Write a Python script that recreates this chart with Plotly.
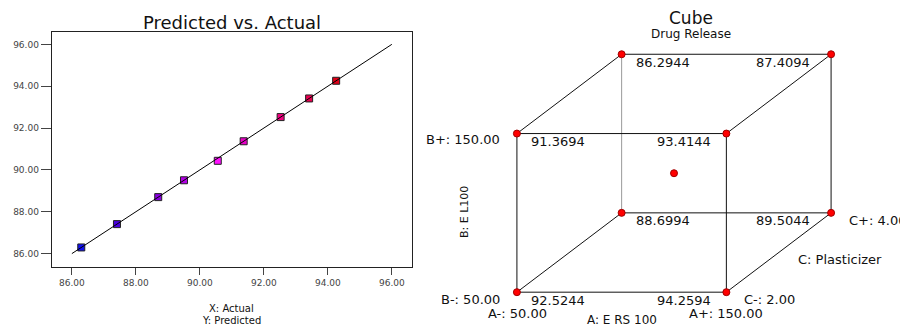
import plotly.graph_objects as go

# ---------------- data ----------------
# Predicted vs. Actual
actual = [86.2944, 87.4094, 88.6994, 89.5044, 90.56, 91.3694, 92.5244, 93.4144, 94.2594]
predicted = [86.2944, 87.4094, 88.6994, 89.5044, 90.4344, 91.3694, 92.5244, 93.4144, 94.2594]
point_colors = ["#1010f0", "#4a00e0", "#8a00e0", "#b400e8", "#ff10ff",
                "#e800c8", "#f00080", "#e80050", "#e00018"]
ref_line = [86.0, 96.0]
tick_vals = [86, 88, 90, 92, 94, 96]
tick_text = ["86.00", "88.00", "90.00", "92.00", "94.00", "96.00"]

# Cube: factor levels (coded) and responses
cube_A = [-1, 1, -1, 1, -1, 1, -1, 1]
cube_B = [-1, -1, 1, 1, -1, -1, 1, 1]
cube_C = [-1, -1, -1, -1, 1, 1, 1, 1]
cube_resp = ["92.5244", "94.2594", "91.3694", "93.4144",
             "88.6994", "89.5044", "86.2944", "87.4094"]
center_pt = [0, 0, 0]
edges = [(0, 1), (2, 3), (0, 2), (1, 3),      # front face
         (4, 5), (6, 7), (5, 7),              # back face (visible)
         (0, 4), (1, 5), (2, 6), (3, 7)]      # depth edges
hidden_edges = [(4, 6)]

FONT = "DejaVu Sans"


def proj(a, b, c):
    return a + 0.5 * c, b + 0.5 * c


fig = go.Figure()

# ---------------- left: predicted vs actual ----------------
fig.add_trace(go.Scatter(
    x=actual, y=predicted, mode="markers",
    marker=dict(symbol="square", size=7, color=point_colors,
                line=dict(color="#222222", width=1)),
    xaxis="x", yaxis="y", hoverinfo="x+y", showlegend=False))
fig.add_trace(go.Scatter(
    x=ref_line, y=ref_line, mode="lines",
    line=dict(color="black", width=1), xaxis="x", yaxis="y",
    hoverinfo="skip", showlegend=False))

# ---------------- right: cube ----------------
for (i, j) in hidden_edges:
    x0, y0 = proj(cube_A[i], cube_B[i], cube_C[i])
    x1, y1 = proj(cube_A[j], cube_B[j], cube_C[j])
    fig.add_trace(go.Scatter(x=[x0, x1], y=[y0, y1], mode="lines",
                             line=dict(color="#9a9a9a", width=1),
                             xaxis="x2", yaxis="y2", hoverinfo="skip", showlegend=False))
for (i, j) in edges:
    x0, y0 = proj(cube_A[i], cube_B[i], cube_C[i])
    x1, y1 = proj(cube_A[j], cube_B[j], cube_C[j])
    fig.add_trace(go.Scatter(x=[x0, x1], y=[y0, y1], mode="lines",
                             line=dict(color="#111111", width=1),
                             xaxis="x2", yaxis="y2", hoverinfo="skip", showlegend=False))

vx = [proj(a, b, c)[0] for a, b, c in zip(cube_A, cube_B, cube_C)]
vy = [proj(a, b, c)[1] for a, b, c in zip(cube_A, cube_B, cube_C)]
cx, cy = proj(*center_pt)
fig.add_trace(go.Scatter(
    x=vx + [cx], y=vy + [cy], mode="markers",
    marker=dict(symbol="circle", size=7, color="#ff0000",
                line=dict(color="#a00000", width=1)),
    xaxis="x2", yaxis="y2", text=cube_resp + ["center"], hoverinfo="text",
    showlegend=False))

annotations = []
# response labels at each vertex
for k in range(8):
    left = cube_A[k] < 0
    back = cube_C[k] > 0
    annotations.append(dict(
        x=vx[k], y=vy[k], xref="x2", yref="y2", text=cube_resp[k],
        showarrow=False, font=dict(family=FONT, size=13, color="#111111"),
        xanchor="left" if left else "right",
        xshift=12 if left else (-19 if back else -13),
        yshift=-8, yanchor="middle"))


def paper(px, py):
    return px / 900.0, 1 - py / 327.0


def add_text(text, px, py, size, xanchor="center", angle=0, color="#111111"):
    x, y = paper(px, py)
    annotations.append(dict(x=x, y=y, xref="paper", yref="paper", text=text,
                            showarrow=False, xanchor=xanchor, yanchor="middle",
                            textangle=angle,
                            font=dict(family=FONT, size=size, color=color)))


add_text("Predicted vs. Actual", 231.5, 23, 18)
add_text("X: Actual", 231.5, 308, 10)
add_text("Y: Predicted", 231.5, 320, 10)
add_text("Cube", 691, 18, 17)
add_text("Drug Release", 691, 34, 12)
add_text("B+: 150.00", 502, 140, 13, xanchor="right")
add_text("B-: 50.00", 502, 299, 13, xanchor="right")
add_text("A-: 50.00", 517, 313, 13)
add_text("A+: 150.00", 726, 313, 13)
add_text("A: E RS 100", 622, 320, 12)
add_text("C-: 2.00", 742, 299, 13, xanchor="left")
add_text("C+: 4.00", 847, 220, 13, xanchor="left")
add_text("C: Plasticizer", 796, 259, 13, xanchor="left")
add_text("B: E L100", 464, 212, 11, angle=-90)

fig.update_layout(
    width=900, height=327, autosize=False,
    margin=dict(l=0, r=0, t=0, b=0),
    paper_bgcolor="white", plot_bgcolor="white",
    showlegend=False,
    annotations=annotations,
    xaxis=dict(domain=[51.7 / 900, 412 / 900], range=[85.37, 96.63],
               tickvals=tick_vals, ticktext=tick_text, ticks="outside",
               ticklen=7, tickcolor="#444444", showgrid=False, zeroline=False,
               showline=True, linecolor="#222222", linewidth=1, mirror=True,
               tickfont=dict(family=FONT, size=9, color="#444444")),
    yaxis=dict(domain=[1 - 267 / 327, 1 - 32 / 327], range=[85.36, 96.59],
               tickvals=tick_vals, ticktext=tick_text, ticks="outside",
               ticklen=10, tickcolor="#444444", showgrid=False, zeroline=False,
               showline=True, linecolor="#222222", linewidth=1, mirror=True,
               tickfont=dict(family=FONT, size=9, color="#444444")),
    xaxis2=dict(domain=[0.5, 1.0], range=[-2.139, 2.158], visible=False,
                showgrid=False, zeroline=False),
    yaxis2=dict(domain=[0, 1], range=[-1.939, 2.184], visible=False,
                showgrid=False, zeroline=False, anchor="x2"),
)
fig.update_layout(xaxis2_anchor="y2")

fig.write_html("out.html", config={"displayModeBar": False},
               post_script="document.body.style.margin='0';document.body.style.overflow='hidden';")
